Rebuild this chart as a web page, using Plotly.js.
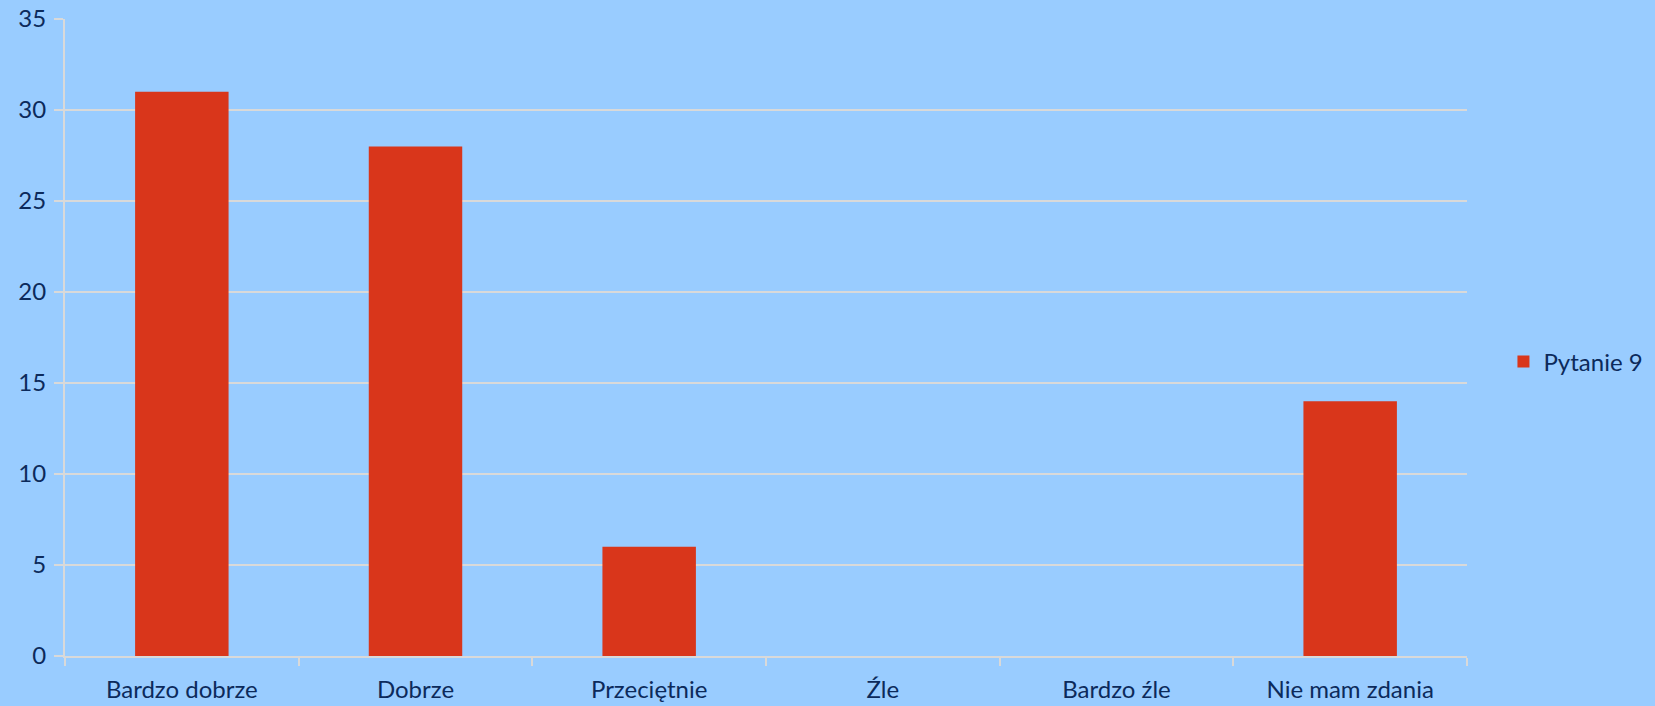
<!DOCTYPE html>
<html>
<head>
<meta charset="utf-8">
<script src="https://cdn.plot.ly/plotly-3.0.1.min.js"></script>
<style>html,body{margin:0;padding:0;background:#99CCFF;}#chart{width:1655px;height:706px;}</style>
</head>
<body>
<div id="chart"></div>
<script>
const categories = ["Bardzo dobrze", "Dobrze", "Przeciętnie", "Źle", "Bardzo źle", "Nie mam zdania"];
const values = [31, 28, 6, 0, 0, 14];
const seriesName = "Pytanie 9";
const yTicks = [0, 5, 10, 15, 20, 25, 30, 35];

const textColor = "#0C2A5B";
const gridColor = "#D9D9D9";
const fontFamily = "Lato, 'Open Sans', sans-serif";

Plotly.newPlot("chart", [{
  type: "bar",
  x: categories,
  y: values,
  name: seriesName,
  marker: {color: "#D9361B"},
  showlegend: true
}], {
  width: 1655, height: 706,
  paper_bgcolor: "#99CCFF",
  plot_bgcolor: "#99CCFF",
  margin: {l: 65, r: 188, t: 19, b: 50, autoexpand: false},
  bargap: 0.6,
  font: {family: fontFamily, size: 24, color: textColor},
  xaxis: {
    type: "category",
    tickson: "boundaries",
    ticks: "outside", ticklen: 8, tickwidth: 2, tickcolor: gridColor,
    showline: true, linecolor: gridColor, linewidth: 2,
    showgrid: false,
    ticklabelstandoff: 11,
    tickfont: {family: fontFamily, size: 24, color: textColor}
  },
  yaxis: {
    range: [0, 35],
    tickvals: yTicks,
    ticks: "outside", ticklen: 9, tickwidth: 2, tickcolor: gridColor,
    showline: true, linecolor: gridColor, linewidth: 2,
    showgrid: true, gridcolor: gridColor, gridwidth: 2,
    zeroline: false,
    ticklabelstandoff: 3,
    tickfont: {family: fontFamily, size: 24, color: textColor}
  },
  legend: {
    x: 1.026, y: 0.4615, xanchor: "left", yanchor: "middle",
    bgcolor: "rgba(0,0,0,0)",
    font: {family: fontFamily, size: 24, color: textColor}
  }
}, {displayModeBar: false});
</script>
</body>
</html>
